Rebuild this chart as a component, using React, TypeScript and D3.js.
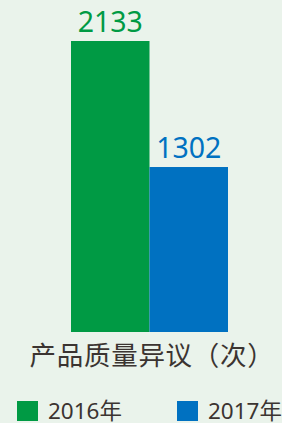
import React, { useEffect } from 'react';
import { scaleBand, scaleLinear } from 'd3';

// chart data
const years = ['2016年', '2017年'];
const values = [2133, 1302];
const colors = ['#009a44', '#0071c1'];
const category = '产品质量异议（次）';

function App() {
  const width = 282;
  const height = 423;

  useEffect(() => {
    document.body.style.margin = '0';
    document.body.style.background = '#eaf3eb';
  }, []);

  // x: two bars side by side, y: value axis (baseline is not at zero in the original)
  const xScale = scaleBand().domain(years).range([71, 228]).padding(0);
  const yScale = scaleLinear().domain([214, 2133]).range([332, 41]);

  const font = '"Noto Sans", "Noto Sans CJK SC", sans-serif';

  return (
    <svg width={width} height={height} style={{ display: 'block', background: '#eaf3eb' }}>
      {years.map((y, i) => (
        <g key={y}>
          <rect
            x={xScale(y)}
            y={yScale(values[i])}
            width={xScale.bandwidth()}
            height={yScale(yScale.domain()[0]) - yScale(values[i])}
            fill={colors[i]}
          />
          <text
            x={(xScale(y) as number) + xScale.bandwidth() / 2}
            y={yScale(values[i]) - 9}
            textAnchor="middle"
            fontFamily={font}
            fontSize={28.5}
            fill={colors[i]}
          >
            {values[i]}
          </text>
        </g>
      ))}

      <text
        x={152}
        y={365}
        textAnchor="middle"
        fontFamily='"Noto Sans CJK SC", sans-serif'
        fontSize={26.5}
        letterSpacing={0.7}
        fill="#3b3431"
      >
        {category}
      </text>

      {/* legend */}
      {years.map((y, i) => (
        <g key={'lg' + y} transform={`translate(${17 + i * 160},401)`}>
          <rect x={0} y={0} width={21} height={20} fill={colors[i]} />
          <text x={31} y={17.5} fontFamily={font} fontSize={22.5} fill="#3b3431">
            {y}
          </text>
        </g>
      ))}
    </svg>
  );
}

export default App;
